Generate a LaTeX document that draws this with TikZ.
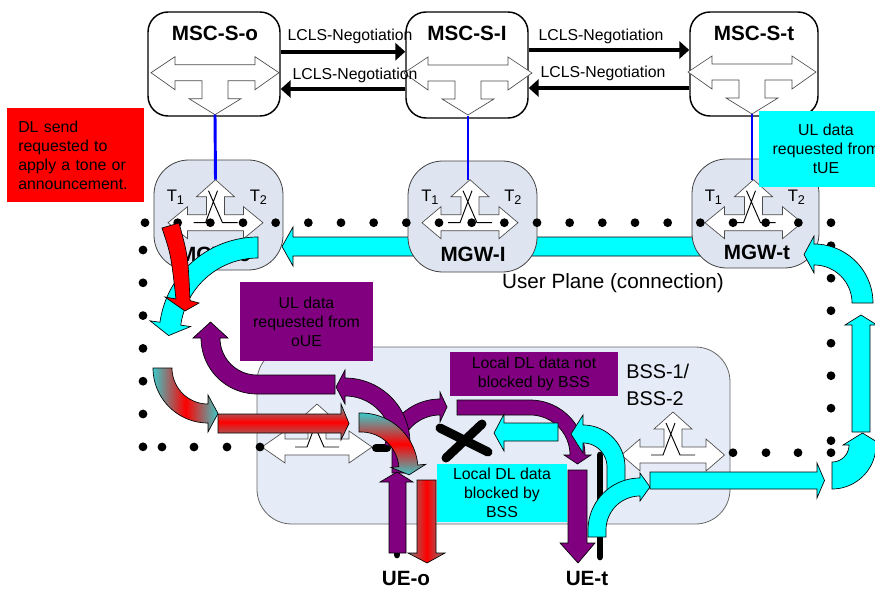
\documentclass[tikz,border=0pt]{standalone}
\usepackage{fontspec}
\setmainfont{Liberation Sans}
\usetikzlibrary{calc,arrows.meta}
\definecolor{mgwfill}{RGB}{222,228,240}
\definecolor{bssfill}{RGB}{230,236,247}
\definecolor{purp}{RGB}{128,0,128}
\definecolor{cyn}{RGB}{0,255,255}
\definecolor{gedge}{RGB}{60,200,200}
\definecolor{gtop}{RGB}{90,170,170}
\definecolor{gbot}{RGB}{128,128,128}

\newcommand\swdown[2]{%
 \draw[swshape] ({#1-64},#2) -- ({#1-40},{#2-16}) -- ({#1-40},{#2-8}) -- ({#1+40},{#2-8}) -- ({#1+40},{#2-16}) -- ({#1+64},#2) -- ({#1+40},{#2+17}) -- ({#1+40},{#2+8}) -- ({#1+13},{#2+8}) -- ({#1+13},{#2+26}) -- ({#1+26},{#2+26}) -- (#1,{#2+42}) -- ({#1-26},{#2+26}) -- ({#1-13},{#2+26}) -- ({#1-13},{#2+8}) -- ({#1-40},{#2+8}) -- ({#1-40},{#2+17}) -- cycle;}

\newcommand\swup[4]{%
 \draw[swshape] ({#1-#3},#2) -- ({#1-#4},{#2-16}) -- ({#1-#4},{#2-8}) -- ({#1-9},{#2-8}) -- ({#1-9},{#2-26}) -- ({#1-19},{#2-26}) -- (#1,{#2-43}) -- ({#1+19},{#2-26}) -- ({#1+9},{#2-26}) -- ({#1+9},{#2-8}) -- ({#1+#4},{#2-8}) -- ({#1+#4},{#2-16}) -- ({#1+#3},#2) -- ({#1+#4},{#2+16}) -- ({#1+#4},{#2+8}) -- ({#1-#4},{#2+8}) -- ({#1-#4},{#2+16}) -- cycle;
 \draw[swline] ({#1-22},#2) -- ({#1-10},#2) -- ({#1+2},{#2-32}) ({#1+22},#2) -- ({#1+7},#2) -- ({#1-7},{#2-32});}

\def\ctail{0}
\newcommand\carr[9]{%
 \pgfmathsetmacro\cRo{#4+#7}%
 \pgfmathsetmacro\cRi{#3-#7}%
 \pgfmathsetmacro\cRm{(#3+#4)/2}%
 \pgfmathsetmacro\cTa{#6+90*sign(#6-#5)}%
 \pgfmathsetmacro\cTb{#5-90*sign(#6-#5)}%
 \path[#9] ($(#1,#2)+(#5:#4)+(\cTb:\ctail)$)
  -- plot[domain=#5:#6,samples=40,variable=\ang] ({#1+#4*cos(\ang)},{#2+#4*sin(\ang)})
  -- ($(#1,#2)+(#6:\cRo)$)
  -- ($(#1,#2)+(#6:\cRm)+(\cTa:#8)$)
  -- ($(#1,#2)+(#6:\cRi)$)
  -- plot[domain=#6:#5,samples=40,variable=\ang] ({#1+#3*cos(\ang)},{#2+#3*sin(\ang)})
  -- ($(#1,#2)+(#5:#3)+(\cTb:\ctail)$) -- cycle;}

\newcommand\tsub[2]{\fontsize{12.5}{14}\selectfont #1\raisebox{-2.5pt}{\fontsize{9.5}{10}\selectfont #2}}

\tikzset{
 mscbox/.style={draw=black, line width=1.1pt, fill=white, rounded corners=15pt, inner sep=0pt},
 mgwbox/.style={draw=black!75, line width=0.6pt, fill=mgwfill, rounded corners=26pt, inner sep=0pt},
 bssbox/.style={draw=black!60, line width=0.6pt, fill=bssfill, rounded corners=26pt, inner sep=0pt},
 swshape/.style={draw=black!70, line width=0.5pt, fill=white},
 swline/.style={draw=black, line width=0.7pt},
 lcls/.style={line width=3pt, -{Triangle[length=7.5pt,width=13pt]}},
 lclstext/.style={font=\fontsize{11.85}{14}\selectfont, inner sep=0pt},
 bigtitle/.style={font=\fontsize{15.5}{18}\selectfont\bfseries, inner sep=0pt},
 tlab/.style={inner sep=0pt, anchor=west},
 ctrl/.style={draw=blue, line width=2.2pt},
 blk/.style={draw=black, line width=0.5pt},
 cyanarr/.style={blk, fill=cyn},
 purparr/.style={blk, fill=purp},
 redarr/.style={blk, fill=red},
 tbox/.style={inner sep=0pt, font=\fontsize{11.9}{14.3}\selectfont, align=center},
 uebar/.style={line width=5pt, line cap=round, draw=black},
}

\begin{document}
\begin{tikzpicture}[x=0.75pt,y=-0.75pt]
\useasboundingbox (0,0) rectangle (875,589);
\clip (0,0) rectangle (875,589);

% user plane cyan arrow behind MGWs
\path[cyanarr] (720,237) -- (293,237) -- (293,227) -- (282,246.5) -- (293,266) -- (293,256) -- (720,256) -- cycle;

% MSC servers
\node[mscbox, minimum width=99pt, minimum height=78pt] (msco) at (214,64) {};
\node[mscbox, minimum width=91.5pt, minimum height=79.5pt] (msci) at (467,65) {};
\node[mscbox, minimum width=96pt, minimum height=78pt] (msct) at (754,64) {};
\node[bigtitle] (mscolab) at (215,33) {MSC-S-o};
\node[bigtitle] (mscilab) at (467,33) {MSC-S-I};
\node[bigtitle] (msctlab) at (754,33) {MSC-S-t};
\swdown{215}{72.7}
\swdown{468}{73}
\swdown{752}{72}

% LCLS negotiation
\coordinate (ya) at (0,51.7);
\coordinate (yb) at (0,89);
\coordinate (yc) at (0,50);
\coordinate (yd) at (0,88);
\draw[lcls] (msco.east |- ya) -- (msci.west |- ya);
\draw[lcls] (msci.west |- yb) -- (msco.east |- yb);
\draw[lcls] (msci.east |- yc) -- (msct.west |- yc);
\draw[lcls] (msct.west |- yd) -- (msci.east |- yd);
\node[lclstext] (l1) at (350,36) {LCLS-Negotiation};
\node[lclstext] (l2) at (355,75) {LCLS-Negotiation};
\node[lclstext] (l3) at (601,36) {LCLS-Negotiation};
\node[lclstext] (l4) at (603,73) {LCLS-Negotiation};

% MGWs
\node[mgwbox, minimum width=96.75pt, minimum height=82.5pt] (mgwo) at (218.5,215) {};
\node[mgwbox, minimum width=96.75pt, minimum height=83.25pt] (mgwi) at (472.5,216.5) {};
\node[mgwbox, minimum width=95.25pt, minimum height=81.75pt] (mgwt) at (755.5,213.5) {};
\node[bigtitle] (mgwolab) at (215,254) {MGW-o};
\node[bigtitle] (mgwilab) at (473,254.5) {MGW-I};
\node[bigtitle] (mgwtlab) at (757,252) {MGW-t};
\swup{215.5}{222.7}{47.5}{28}
\swup{470}{222.7}{48}{29}
\swup{753.5}{222.7}{48.5}{29}
\node[tlab] (ot1) at (166.5,197) {\tsub{T}{1}};
\node[tlab] (ot2) at (249.5,197) {\tsub{T}{2}};
\node[tlab] (it1) at (421,197) {\tsub{T}{1}};
\node[tlab] (it2) at (504,197) {\tsub{T}{2}};
\node[tlab] (tt1) at (704.5,197) {\tsub{T}{1}};
\node[tlab] (tt2) at (787.5,197) {\tsub{T}{2}};

% control links
\coordinate (mscoT) at (215,114.7);
\coordinate (mgwoT) at (215.5,179.7);
\coordinate (msciT) at (468,116);
\coordinate (mgwiT) at (468,180);
\coordinate (msctT) at (752,114);
\coordinate (mgwtT) at (752,179.7);
\draw[ctrl] (mscoT) -- (mgwoT);
\draw[ctrl] (msciT) -- (mgwiT);
\draw[ctrl] (msctT) -- (mgwtT);

% BSS
\node[bssbox, minimum width=354.75pt, minimum height=132.75pt] (bss) at (493.5,435.5) {};
\swup{317}{447}{55}{32}
\swup{673}{455}{51.5}{33}
\node[anchor=west, align=left, font=\fontsize{14.9}{20.25}\selectfont, inner sep=0pt] (bsslab) at (626,385) {BSS-1/\\BSS-2};

% dotted user plane
\foreach \i in {0,...,21} \fill ({145+32.667*\i},222.7) circle[radius=4.4];
\foreach \j in {0,...,6} \fill (143,{250+32.8*\j}) circle[radius=4.4];
\foreach \j in {0,...,6} \fill (831,{245.7+32.5*\j}) circle[radius=4.4];
\fill (831,452.7) circle[radius=4.4];
\foreach \x in {162,194,227,260} \fill (\x,447) circle[radius=4.4];
\foreach \x in {733,766,798} \fill (\x,452.7) circle[radius=4.4];
\coordinate (bl1) at (376,448);
\coordinate (bl2) at (387,448);
\draw[line width=6pt, line cap=round] (bl1) -- (bl2);
\draw[line width=6.75pt, line cap=round] (440,428) -- (488,452) (446,458) -- (482,424);

% UE connections
\coordinate (ueoTop) at (397,455);
\coordinate (ueoBot) at (397,555);
\coordinate (uetTop) at (600,455);
\coordinate (uetBot) at (600,557);
\draw[uebar] (ueoTop) -- (ueoBot);
\draw[uebar] (uetTop) -- (uetBot);

% arrows around MGW-o
\def\ctail{0}\carr{258}{336}{78}{99}{270}{188}{10}{12}{cyanarr}
\path[redarr] (162,228) .. controls (171,255) .. (176,299) -- (165,297) -- (185,311) -- (199,303) -- (190,300.6) .. controls (188,256) .. (179,223) -- cycle;
\def\ctail{78}\carr{257}{338}{37}{56}{90}{180}{8}{16}{purparr}

% gradient DL arrows
\def\ctail{0}\carr{208}{368}{36}{55}{180}{90}{9}{10}{blk, left color=gedge, right color=gedge, middle color=red}
\path[blk, top color=gtop, bottom color=gbot, middle color=red] (218,414) -- (341,414) -- (341,404) -- (349,423.5) -- (341,440) -- (341,433) -- (218,433) -- cycle;

% purple UL from UE-o
\def\ctail{0}\carr{440}{455}{40}{56}{190}{270}{7}{7}{purparr}
\def\ctail{30}\carr{345}{443}{47}{65}{0}{-90}{8}{9}{purparr}
\path[purparr] (389,553) -- (389,482) -- (380,482) -- (397,472) -- (413,482) -- (406,482) -- (406,553) -- cycle;
\def\ctail{2}\carr{361}{470}{38}{57}{270}{355}{8}{9}{blk, top color=gedge, bottom color=gedge, middle color=red}
\path[blk, left color=gbot, right color=gbot, middle color=red] (417,480) -- (417,553) -- (408,553) -- (427,563) -- (445,553) -- (436,553) -- (436,480) -- cycle;

% local DL not blocked (purple) to UE-t
\def\ctail{73}\carr{530}{455}{40}{55}{270}{360}{6}{9}{purparr}
\path[purparr] (568,470) -- (568,543) -- (560,543) -- (578,563) -- (595,543) -- (587,543) -- (587,470) -- cycle;

% cyan UL from UE-t
\path[cyanarr] (558,423) -- (504,423) -- (504,414) -- (494,433) -- (504,451) -- (504,441) -- (558,441) -- cycle;
\def\ctail{23}\carr{583}{467}{24}{42}{360}{270}{10}{12}{cyanarr}
\def\ctail{7}\carr{640}{530}{34}{52}{180}{270}{5}{10}{cyanarr}
\path[cyanarr] (650,472) -- (817,472) -- (817,463) -- (824.5,480.5) -- (817,498) -- (817,489) -- (650,489) -- cycle;
\def\ctail{0}\carr{832}{445}{17}{44}{90}{0}{6}{12}{cyanarr}
\path[cyanarr] (852,432) -- (852,325) -- (845,325) -- (861,315) -- (877,325) -- (870,325) -- (870,432) -- cycle;
\def\ctail{0}\carr{814}{303}{38}{59}{360}{270}{8}{10}{cyanarr}

% text boxes
\node[tbox, fill=red, anchor=north west, minimum width=102.75pt, minimum height=70.5pt, text width=86.25pt, align=left] (dlsend) at (7,108) {DL send\\requested to\\apply a tone or\\announcement.};
\node[tbox, fill=cyn, minimum width=100.5pt, minimum height=57pt] (tue) at (826,149) {UL data\\requested from\\tUE};
\node[tbox, fill=purp, minimum width=99.75pt, minimum height=59.25pt] (oue) at (306.5,321.5) {UL data\\requested from\\oUE};
\node[tbox, fill=purp, minimum width=126pt, minimum height=33pt] (notblk) at (534,374) {Local DL data not\\blocked by BSS};
\node[tbox, fill=cyn, minimum width=97.5pt, minimum height=43.5pt] (blk) at (502,493) {Local DL data\\blocked by\\BSS};

% labels
\node[font=\fontsize{15.5}{18}\selectfont, inner sep=0pt] (uplane) at (613,283) {User Plane (connection)};
\node[bigtitle] (ueolab) at (406,578) {UE-o};
\node[bigtitle] (uetlab) at (587,578) {UE-t};
\end{tikzpicture}
\end{document}
